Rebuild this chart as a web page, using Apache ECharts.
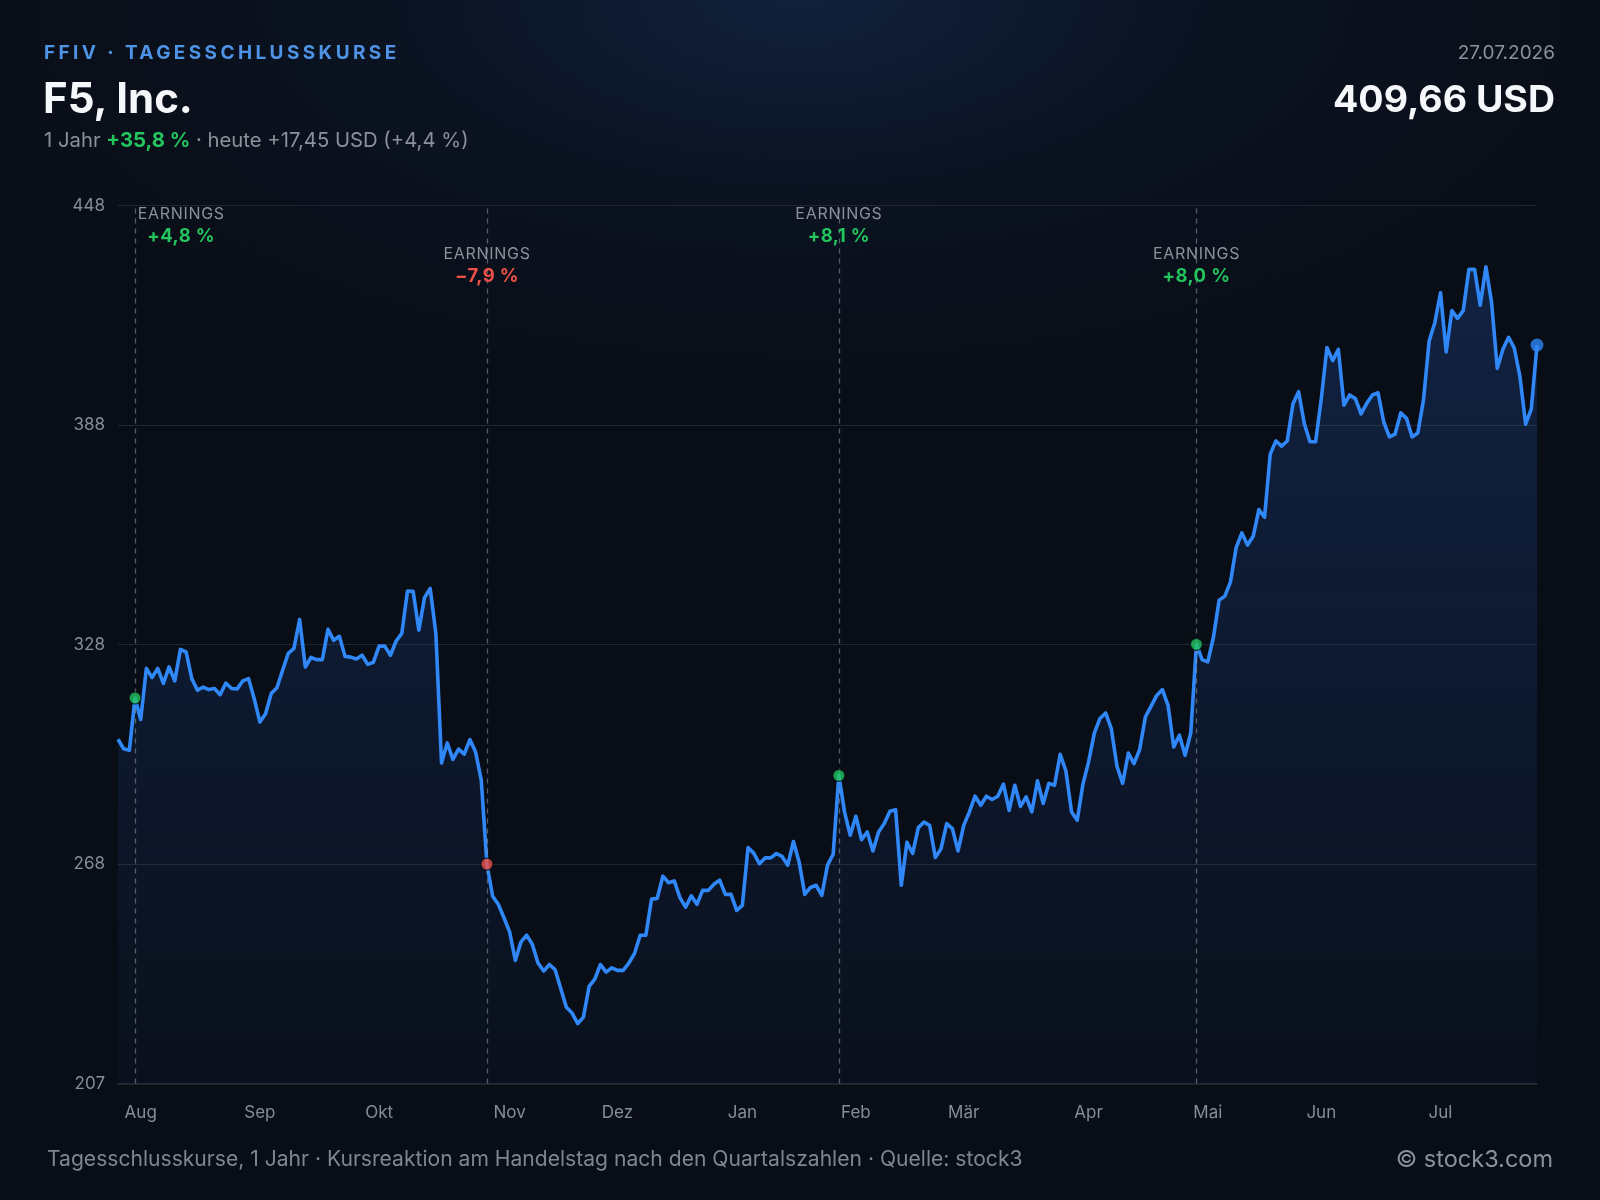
<!DOCTYPE html>
<html>
<head>
<meta charset="utf-8">
<title>F5, Inc. – Tagesschlusskurse</title>
<script src="https://cdn.jsdelivr.net/npm/echarts@6/dist/echarts.min.js"></script>
<style>
    html, body {
        margin: 0;
        padding: 0;
        width: 1600px;
        height: 1200px;
        overflow: hidden;
        font-family: Inter, "Noto Sans", sans-serif;
        background: radial-gradient(ellipse 900px 420px at 50% 0%, #10203b 0%, #0b1322 45%, #090d15 100%);
        background-color: #090d15;
    }
    #main {
        position: absolute;
        left: 0;
        top: 0;
        width: 1600px;
        height: 1200px;
    }
    .txt {
        position: absolute;
        white-space: nowrap;
        line-height: 1;
    }
    .tag {
        left: 44px;
        top: 43px;
        font-size: 19px;
        font-weight: 700;
        letter-spacing: 3.4px;
        color: #4f93e6;
    }
    .title {
        left: 43px;
        top: 77px;
        font-size: 42px;
        font-weight: 700;
        color: #f5f7fa;
    }
    .sub {
        left: 44px;
        top: 130px;
        font-size: 20.3px;
        color: #8b919c;
    }
    .sub b {
        color: #22c55e;
        font-weight: 700;
    }
    .date {
        right: 45px;
        top: 43px;
        font-size: 19px;
        color: #8b919c;
    }
    .price {
        right: 45px;
        top: 80px;
        font-size: 37.5px;
        font-weight: 700;
        color: #f5f7fa;
    }
    .foot {
        left: 47px;
        top: 1148px;
        font-size: 21.1px;
        color: #7f8692;
    }
    .copy {
        right: 47px;
        top: 1147px;
        font-size: 23.5px;
        color: #8b919c;
    }
    .earn {
        position: absolute;
        text-align: center;
        line-height: 1;
        white-space: nowrap;
        pointer-events: none;
    }
    .earn .k {
        display: block;
        font-size: 16px;
        letter-spacing: 0.7px;
        color: #8b919c;
    }
    .earn .v {
        display: block;
        margin-top: 5px;
        font-size: 18.5px;
        font-weight: 700;
        letter-spacing: 0.4px;
    }
</style>
</head>
<body>
<div id="main"></div>
<div class="txt tag">FFIV · TAGESSCHLUSSKURSE</div>
<div class="txt title">F5, Inc.</div>
<div class="txt sub">1 Jahr <b>+35,8 %</b> · heute +17,45 USD (+4,4 %)</div>
<div class="txt date">27.07.2026</div>
<div class="txt price">409,66 USD</div>
<div class="txt foot">Tagesschlusskurse, 1 Jahr · Kursreaktion am Handelstag nach den Quartalszahlen · Quelle: stock3</div>
<div class="txt copy">© stock3.com</div>
<script>
// Handelstage: 28.07.2025 bis 27.07.2026 (ohne Wochenenden und US-Feiertage)
var firstDay = '2025-07-28';
var lastDay = '2026-07-27';
var holidays = ['2025-09-01', '2025-11-27', '2025-12-25', '2026-01-01', '2026-01-19',
    '2026-02-16', '2026-04-03', '2026-05-25', '2026-06-19', '2026-07-03'];
var monthNames = ['Jan', 'Feb', 'Mär', 'Apr', 'Mai', 'Jun', 'Jul', 'Aug', 'Sep', 'Okt', 'Nov', 'Dez'];

// Schlusskurse in USD
var closes = [
    301.7, 299.1, 298.7, 313.0, 307.1, 321.1, 318.6, 321.1, 317.0, 321.5,
    317.7, 326.3, 325.6, 318.3, 315.1, 316.0, 315.3, 315.6, 313.9, 317.1,
    315.6, 315.5, 317.7, 318.3, 312.8, 306.4, 308.7, 314.2, 315.8, 320.6,
    325.2, 326.6, 334.5, 321.5, 324.1, 323.5, 323.5, 331.8, 328.8, 329.9,
    324.4, 324.2, 323.7, 324.7, 322.2, 322.8, 327.2, 327.2, 324.7, 328.6,
    330.7, 342.3, 342.2, 331.6, 340.5, 343.0, 330.7, 295.2, 300.7, 296.2,
    299.0, 297.6, 301.6, 298.2, 290.5, 267.5, 258.7, 256.5, 252.8, 248.9,
    241.1, 246.2, 248.0, 245.5, 240.4, 238.2, 240.0, 238.6, 233.4, 228.3,
    226.7, 223.8, 225.6, 234.0, 236.0, 240.0, 237.9, 239.1, 238.4, 238.4,
    240.4, 243.0, 248.0, 248.0, 257.9, 258.1, 264.2, 262.4, 262.9, 258.3,
    255.7, 258.8, 256.5, 260.3, 260.3, 262.0, 263.1, 259.2, 259.2, 254.8,
    256.2, 272.0, 270.5, 267.6, 269.2, 269.2, 270.4, 269.6, 267.2, 273.7,
    268.1, 259.2, 261.1, 261.7, 258.9, 267.2, 270.2, 291.8, 281.8, 275.4,
    280.6, 274.2, 276.3, 271.1, 276.3, 278.6, 282.0, 282.4, 261.7, 273.5,
    270.4, 277.5, 279.0, 278.1, 269.3, 271.7, 278.6, 277.2, 271.1, 278.1,
    281.8, 286.1, 283.6, 286.1, 285.2, 286.1, 289.4, 282.2, 289.1, 283.3,
    285.9, 281.8, 290.3, 284.1, 289.6, 289.1, 297.6, 293.0, 281.8, 279.5,
    289.4, 295.5, 303.3, 307.4, 308.9, 304.6, 294.3, 289.6, 297.9, 295.0,
    298.9, 307.8, 310.7, 313.7, 315.3, 311.0, 299.6, 302.8, 297.3, 303.4,
    327.7, 323.5, 322.9, 329.7, 339.8, 340.9, 344.8, 354.2, 358.2, 354.9,
    357.3, 364.6, 362.5, 379.8, 383.4, 382.0, 383.4, 393.5, 396.9, 388.2,
    383.2, 383.2, 395.0, 409.0, 405.4, 408.5, 393.2, 396.0, 395.0, 390.8,
    393.7, 396.0, 396.6, 388.6, 384.5, 385.3, 391.1, 389.6, 384.5, 385.6,
    394.6, 410.8, 415.8, 424.0, 407.8, 419.1, 417.0, 419.1, 430.4, 430.4,
    420.6, 431.1, 421.3, 403.3, 408.5, 411.8, 408.8, 401.0, 388.0, 392.21,
    409.66
];

// Quartalszahlen: Handelstag der Kursreaktion
var earningsDays = ['2025-07-31', '2025-10-28', '2026-01-28', '2026-04-29'];
var earningsMoves = ['+4,8 %', '\u22127,9 %', '+8,1 %', '+8,0 %'];

// Y-Achse
var yMin = 207.4;
var yMax = 447.9;

var GREEN = '#22c55e';
var RED = '#ef5048';
var BLUE = '#3087f7';

function buildDays(from, to, skip) {
    var days = [];
    var d = new Date(from + 'T00:00:00Z');
    var end = new Date(to + 'T00:00:00Z');
    while (d <= end) {
        var wd = d.getUTCDay();
        var s = d.toISOString().slice(0, 10);
        if (wd !== 0 && wd !== 6 && skip.indexOf(s) < 0) {
            days.push(s);
        }
        d.setUTCDate(d.getUTCDate() + 1);
    }
    return days;
}

var days = buildDays(firstDay, lastDay, holidays);

function isMonthStart(index) {
    if (index === 0) return false;
    return days[index].slice(5, 7) !== days[index - 1].slice(5, 7);
}

var earningsPoints = [];
for (var i = 0; i < earningsDays.length; i++) {
    var k = days.indexOf(earningsDays[i]);
    var up = earningsMoves[i].charAt(0) === '+';
    earningsPoints.push({
        value: [earningsDays[i], closes[k]],
        itemStyle: {color: up ? GREEN : RED}
    });
}

var chart = echarts.init(document.getElementById('main'), null, {renderer: 'canvas'});

var option = {
    backgroundColor: 'transparent',
    animation: false,
    textStyle: {fontFamily: 'Inter'},
    grid: {
        left: 118,
        right: 63,
        top: 205.5,
        bottom: 116.5
    },
    xAxis: {
        type: 'category',
        data: days,
        boundaryGap: false,
        axisLine: {lineStyle: {color: '#262d38', width: 1.5}},
        axisTick: {show: false},
        splitLine: {show: false},
        axisLabel: {
            interval: function (index) {
                return isMonthStart(index);
            },
            formatter: function (value) {
                return monthNames[parseInt(value.slice(5, 7), 10) - 1];
            },
            color: '#868d98',
            fontSize: 17,
            margin: 21
        }
    },
    yAxis: {
        type: 'value',
        min: yMin,
        max: yMax,
        interval: (yMax - yMin) / 4,
        axisLine: {show: false},
        axisTick: {show: false},
        splitLine: {lineStyle: {color: '#1f2632', width: 1.2}},
        axisLabel: {
            formatter: function (v) {
                return Math.round(v);
            },
            color: '#868d98',
            fontSize: 17,
            margin: 13
        }
    },
    series: [{
        name: 'FFIV',
        type: 'line',
        data: closes,
        showSymbol: false,
        symbol: 'none',
        lineStyle: {color: BLUE, width: 3.6, join: 'round'},
        areaStyle: {
            color: new echarts.graphic.LinearGradient(0, 0, 0, 1, [
                {offset: 0, color: 'rgba(45,105,215,0.33)'},
                {offset: 1, color: 'rgba(45,105,215,0.06)'}
            ]),
            origin: 'start'
        },
        markLine: {
            silent: true,
            symbol: 'none',
            label: {show: false},
            lineStyle: {color: 'rgba(150,158,172,0.55)', type: [5, 5], width: 1.3},
            data: earningsDays.map(function (d) {
                return {xAxis: d};
            })
        },
        z: 3
    }, {
        name: 'Quartalszahlen',
        type: 'scatter',
        data: earningsPoints,
        symbolSize: 12,
        itemStyle: {borderColor: '#0a0e16', borderWidth: 1.2},
        z: 5
    }, {
        name: 'Letzter Kurs',
        type: 'scatter',
        data: [[days[days.length - 1], closes[closes.length - 1]]],
        symbolSize: 13,
        itemStyle: {color: BLUE},
        z: 5
    }]
};
chart.setOption(option);

// Beschriftung der Quartalszahlen über den gestrichelten Linien
var gridLeft = 118;
var labelTop = 205;
for (var j = 0; j < earningsDays.length; j++) {
    var px = chart.convertToPixel({xAxisIndex: 0}, earningsDays[j]);
    var up = earningsMoves[j].charAt(0) === '+';
    var box = $div('earn');
    box.innerHTML = '<span class="k">EARNINGS</span><span class="v" style="color:' +
        (up ? GREEN : RED) + '">' + earningsMoves[j] + '</span>';
    box.style.top = (labelTop + (j % 2) * 40) + 'px';
    document.body.appendChild(box);
    var w = box.offsetWidth;
    if (px - w / 2 < gridLeft) {
        box.style.left = (px + 2.6) + 'px';
    } else {
        box.style.left = (px - w / 2) + 'px';
    }
}

function $div(cls) {
    var el = document.createElement('div');
    el.className = cls;
    return el;
}
</script>
</body>
</html>
